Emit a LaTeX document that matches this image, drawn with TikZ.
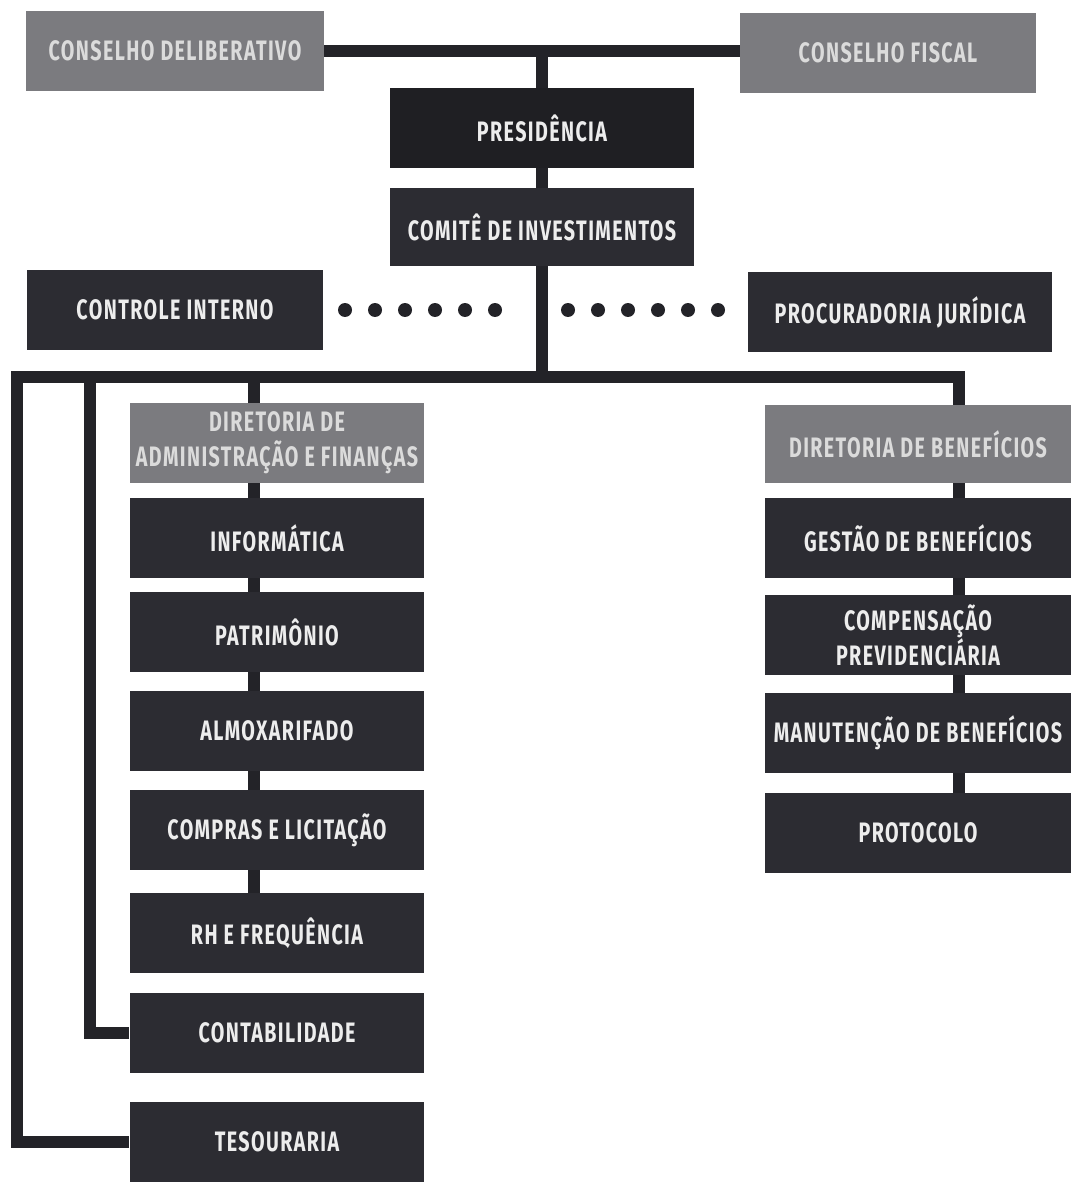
\documentclass[tikz,border=0pt]{standalone}
\usepackage{fontspec}
\newfontfamily\orgfont{Fira Sans}[FakeStretch=0.7,LetterSpace=5]
\usetikzlibrary{backgrounds}
\definecolor{boxdark}{HTML}{2C2C32}
\definecolor{boxblack}{HTML}{1F1F23}
\definecolor{boxgray}{HTML}{7B7B7F}
\definecolor{linedark}{HTML}{232328}
\tikzset{
  orgbox/.style={fill=boxdark, text=white!93!black, minimum width=5.96cm,
    minimum height=1.6cm, inner sep=0pt, align=center,
    font=\orgfont\bfseries\fontsize{16}{20}\selectfont},
  headbox/.style={orgbox, fill=boxgray, text=white!86!black},
  link/.style={draw=linedark, line width=0.25cm, line join=miter},
  dot/.style={fill=linedark}
}
\begin{document}
\begin{tikzpicture}[x=0.02cm,y=-0.02cm]
\useasboundingbox (0,0) rectangle (1072,1182);
% conselhos e presidencia
\node[headbox] (cdel) at (175,51) {CONSELHO DELIBERATIVO};
\node[headbox, minimum width=5.92cm] (cfis) at (888,53) {CONSELHO FISCAL};
\node[orgbox, fill=boxblack, minimum width=6.08cm] (pres) at (542,128) {PRESIDÊNCIA};
\node[orgbox, minimum width=6.08cm, minimum height=1.56cm] (comite) at (542,227) {COMITÊ DE INVESTIMENTOS};
\node[orgbox, minimum width=5.94cm] (ctrl) at (175,310) {CONTROLE INTERNO};
\node[orgbox, minimum width=6.08cm] (proc) at (900,312) {PROCURADORIA JURÍDICA};
% assessorias
\foreach \x in {345,375,...,495} \fill[dot] (\x,310) circle (0.14cm);
\foreach \x in {568,598,...,718} \fill[dot] (\x,310) circle (0.14cm);
% diretoria de administracao
\node[headbox, minimum width=5.9cm] (dadm) at (277,443) {DIRETORIA DE\\ADMINISTRAÇÃO E FINANÇAS};
\foreach \n/\y/\t in {
    info/538/INFORMÁTICA,
    patr/632/PATRIMÔNIO,
    almo/731/ALMOXARIFADO,
    comp/830/COMPRAS E LICITAÇÃO,
    rh/933/RH E FREQUÊNCIA,
    cont/1033/CONTABILIDADE,
    tes/1142/TESOURARIA} {
    \node[orgbox, minimum width=5.9cm] (\n) at (277,\y) {\t};
}
% diretoria de beneficios
\node[headbox, minimum width=6.14cm, minimum height=1.56cm] (dben) at (918,444) {DIRETORIA DE BENEFÍCIOS};
\foreach \n/\y/\t in {
    gest/538/GESTÃO DE BENEFÍCIOS,
    cprev/635/COMPENSAÇÃO\\PREVIDENCIÁRIA,
    manut/733/MANUTENÇÃO DE BENEFÍCIOS,
    prot/833/PROTOCOLO} {
    \node[orgbox, minimum width=6.14cm] (\n) at (918,\y) {\t};
}
\coordinate (jtop) at (cdel.east -| pres.north);
\coordinate (jbar) at (542,377);
\coordinate (jL) at (17,377);
\coordinate (jLL) at (90,377);
\coordinate (jadm) at (254,377);
\coordinate (jben) at (959,377);
\begin{scope}[on background layer]
\fill[white] (0,0) rectangle (1072,1182);
\draw[link] (cdel.east) -- (cdel.east -| cfis.west);
\draw[link] (jtop) -- (pres) -- (comite) -- (jbar);
\draw[link] (tes.west) -| (jL) -- (jben) -- (jben |- dben.north);
\draw[link] (cont.west) -| (jLL);
\draw[link] (jadm) -- (jadm |- dadm.north);
\foreach \a/\b in {dadm/info, info/patr, patr/almo, almo/comp, comp/rh}
    \draw[link] (\a.south -| jadm) -- (\b.north -| jadm);
\foreach \a/\b in {dben/gest, gest/cprev, cprev/manut, manut/prot}
    \draw[link] (\a.south -| jben) -- (\b.north -| jben);
\end{scope}
\end{tikzpicture}
\end{document}
